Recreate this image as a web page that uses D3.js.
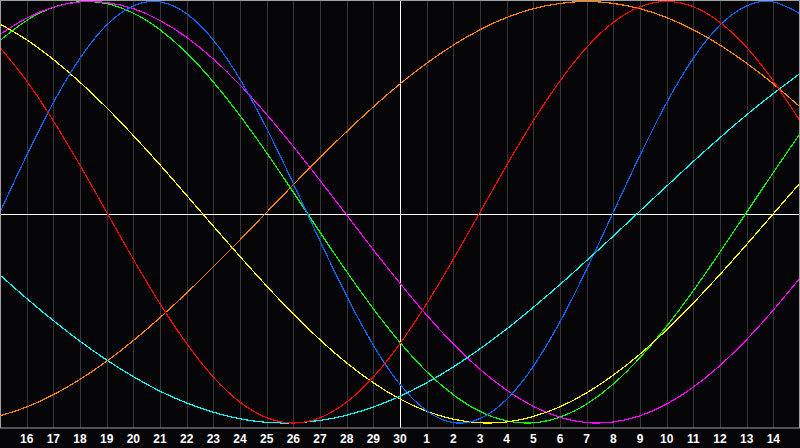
<!DOCTYPE html>
<html lang="en">
<head>
<meta charset="utf-8">
<title>Biorhythm</title>
<script src="https://cdn.jsdelivr.net/npm/d3@7"></script>
<style>
  body { margin: 0; background: #050508; }
  svg { display: block; }
</style>
</head>
<body>
<script>
// day labels under the grid (t = 1..29)
var dayLabels = ["16","17","18","19","20","21","22","23","24","25","26","27","28","29","30",
                 "1","2","3","4","5","6","7","8","9","10","11","12","13","14"];

// curve values, one per day position t = 0..30
var red     = [0.782,0.623,0.434,0.223,0,-0.223,-0.434,-0.623,-0.782,-0.901,-0.975,-1,-0.975,-0.901,-0.782,-0.623,-0.434,-0.223,0,0.223,0.434,0.623,0.782,0.901,0.975,1,0.975,0.901,0.782,0.623,0.434];
var blue    = [0,0.270,0.520,0.731,0.888,0.979,0.998,0.942,0.817,0.631,0.398,0.136,-0.136,-0.398,-0.631,-0.817,-0.942,-0.998,-0.979,-0.888,-0.731,-0.520,-0.270,0,0.270,0.520,0.731,0.888,0.979,0.998,0.942];
var green   = [0.815,0.910,0.972,0.999,0.990,0.945,0.866,0.756,0.618,0.458,0.282,0.095,-0.095,-0.282,-0.458,-0.618,-0.756,-0.866,-0.945,-0.990,-0.999,-0.972,-0.910,-0.815,-0.690,-0.541,-0.372,-0.189,0,0.189,0.372];
var magenta = [0.844,0.921,0.973,0.998,0.995,0.966,0.910,0.830,0.727,0.604,0.464,0.312,0.151,-0.013,-0.178,-0.337,-0.488,-0.625,-0.745,-0.844,-0.921,-0.973,-0.998,-0.995,-0.966,-0.910,-0.830,-0.727,-0.604,-0.464,-0.312];
var yellow  = [0.893,0.818,0.725,0.617,0.496,0.364,0.225,0.080,-0.066,-0.210,-0.350,-0.483,-0.605,-0.715,-0.809,-0.886,-0.944,-0.982,-0.999,-0.995,-0.969,-0.923,-0.857,-0.773,-0.673,-0.558,-0.431,-0.295,-0.153,-0.007,0.139];
var orange  = [-0.966,-0.924,-0.866,-0.793,-0.707,-0.609,-0.5,-0.383,-0.259,-0.131,0,0.131,0.259,0.383,0.5,0.609,0.707,0.793,0.866,0.924,0.966,0.991,1,0.991,0.966,0.924,0.866,0.793,0.707,0.609,0.5];
var cyan    = [-0.298,-0.409,-0.514,-0.612,-0.701,-0.780,-0.849,-0.905,-0.949,-0.980,-0.997,-0.999,-0.988,-0.963,-0.924,-0.873,-0.809,-0.734,-0.648,-0.554,-0.451,-0.343,-0.229,-0.113,0.006,0.124,0.241,0.354,0.462,0.563,0.658];

var series = [
  { values: green,   color: "#00ff00" },
  { values: magenta, color: "#ff00ff" },
  { values: yellow,  color: "#ffff00" },
  { values: blue,    color: "#0a64ff" },
  { values: cyan,    color: "#00ffff" },
  { values: orange,  color: "#ff8000" },
  { values: red,     color: "#ff0000" }
];

var w = 800, h = 448, plotH = 428;

var x = d3.scaleLinear().domain([0, 30]).range([0, 800]);
var y = d3.scaleLinear().domain([-1, 1]).range([423, 1.5]);

var svg = d3.select("body").append("svg")
  .attr("width", w)
  .attr("height", h);

svg.append("rect")
  .attr("width", w).attr("height", h)
  .attr("fill", "#050508");

// vertical day grid
svg.append("g")
  .selectAll("line")
  .data(d3.range(1, 30))
  .enter().append("line")
  .attr("x1", function(d) { return Math.round(x(d)) + 0.5; })
  .attr("x2", function(d) { return Math.round(x(d)) + 0.5; })
  .attr("y1", 0).attr("y2", plotH)
  .attr("stroke", function(d) { return d === 15 ? "#ffffff" : "#363638"; });

// zero line
svg.append("line")
  .attr("x1", 0).attr("x2", w)
  .attr("y1", 214.5).attr("y2", 214.5)
  .attr("stroke", "#ffffff");

// curves
var line = d3.line()
  .x(function(d, i) { return x(i); })
  .y(function(d) { return y(d); })
  .curve(d3.curveNatural);

svg.append("g")
  .selectAll("path")
  .data(series)
  .enter().append("path")
  .attr("d", function(s) { return line(s.values); })
  .attr("fill", "none")
  .attr("stroke", function(s) { return s.color; })
  .attr("stroke-width", 1.2)
  .attr("shape-rendering", "crispEdges");

// border
svg.append("rect")
  .attr("x", 0.5).attr("y", 0.5)
  .attr("width", 799).attr("height", plotH - 0.5)
  .attr("fill", "none")
  .attr("stroke", "#a0a0a0");

// day labels
svg.append("g")
  .selectAll("text")
  .data(dayLabels)
  .enter().append("text")
  .attr("x", function(d, i) { return x(i + 1); })
  .attr("y", 443)
  .attr("text-anchor", "middle")
  .attr("fill", "#ffffff")
  .attr("font-family", "'Liberation Sans', Arial, sans-serif")
  .attr("font-weight", "bold")
  .attr("font-size", "12px")
  .text(function(d) { return d; });
</script>
</body>
</html>
